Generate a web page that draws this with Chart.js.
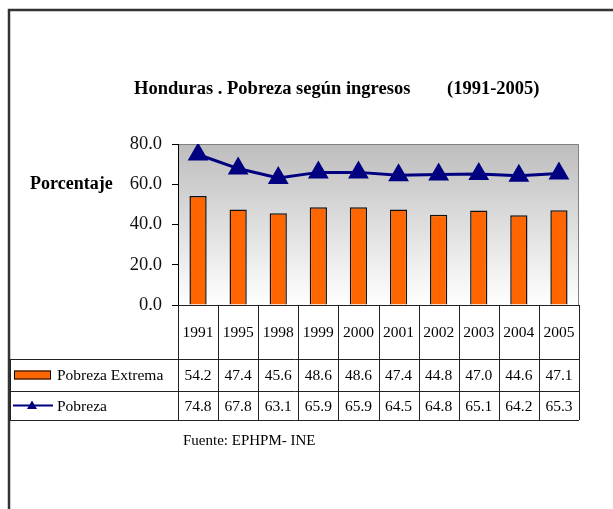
<!DOCTYPE html>
<html lang="es">
<head>
  <meta charset="UTF-8" />
  <title>Honduras . Pobreza según ingresos</title>
  <script src="https://cdn.jsdelivr.net/npm/chart.js@4.4.0/dist/chart.umd.min.js"></script>
  <style>
    html, body { margin: 0; padding: 0; background: #fff; }
    #chart { display: block; }
  </style>
</head>
<body>
  <canvas id="chart" width="613" height="509"></canvas>

  <script>
    const years = ['1991', '1995', '1998', '1999', '2000', '2001', '2002', '2003', '2004', '2005'];
    const pobrezaExtrema = [54.2, 47.4, 45.6, 48.6, 48.6, 47.4, 44.8, 47.0, 44.6, 47.1];
    const pobreza = [74.8, 67.8, 63.1, 65.9, 65.9, 64.5, 64.8, 65.1, 64.2, 65.3];
    const yTicks = [0, 20, 40, 60, 80];

    const SERIF = '"Liberation Serif", "Times New Roman", serif';
    const ORANGE = '#FF6600';
    const NAVY = '#000080';

    // frame, gradient plot area, title, and the data table under the plot
    const decor = {
      id: 'decor',
      beforeDraw(chart) {
        const { ctx, chartArea: a } = chart;
        ctx.save();
        ctx.fillStyle = '#fff';
        ctx.fillRect(0, 0, chart.width, chart.height);

        // outer frame (only top and left visible)
        ctx.strokeStyle = '#333';
        ctx.lineWidth = 2.5;
        ctx.beginPath();
        ctx.moveTo(9, chart.height);
        ctx.lineTo(9, 10);
        ctx.lineTo(chart.width, 10);
        ctx.stroke();

        const g = ctx.createLinearGradient(0, a.top, 0, a.bottom);
        g.addColorStop(0, '#bdbdbd');
        g.addColorStop(1, '#ffffff');
        ctx.fillStyle = g;
        ctx.fillRect(a.left, a.top, a.right - a.left, a.bottom - a.top);

        ctx.strokeStyle = '#808080';
        ctx.lineWidth = 1;
        ctx.beginPath();
        ctx.moveTo(a.left, a.top + 0.5);
        ctx.lineTo(a.right - 0.5, a.top + 0.5);
        ctx.lineTo(a.right - 0.5, a.bottom);
        ctx.stroke();
        ctx.restore();
      },
      afterDraw(chart) {
        const { ctx, chartArea: a } = chart;
        const x = chart.scales.x;
        ctx.save();

        // titles
        ctx.fillStyle = '#000';
        ctx.textBaseline = 'middle';
        ctx.textAlign = 'left';
        ctx.font = 'bold 18.5px ' + SERIF;
        ctx.fillText('Honduras . Pobreza según ingresos', 134, 89);
        ctx.fillText('(1991-2005)', 447, 89);
        ctx.font = 'bold 18px ' + SERIF;
        ctx.fillText('Porcentaje', 30, 184);

        // table geometry
        const legLeft = 10;
        const rowCat = a.bottom + 54;
        const row1 = rowCat + 32;
        const row2 = row1 + 29;
        const centers = years.map((_, i) => x.getPixelForValue(i));
        const bounds = [a.left];
        for (let i = 0; i < centers.length - 1; i++) bounds.push((centers[i] + centers[i + 1]) / 2);
        bounds.push(a.right);

        ctx.strokeStyle = '#222';
        ctx.lineWidth = 1;
        ctx.beginPath();
        ctx.moveTo(a.left, a.bottom + 0.5);
        ctx.lineTo(a.right, a.bottom + 0.5);
        [rowCat, row1, row2].forEach(yy => {
          ctx.moveTo(legLeft, yy + 0.5);
          ctx.lineTo(a.right, yy + 0.5);
        });
        ctx.moveTo(legLeft + 0.5, rowCat);
        ctx.lineTo(legLeft + 0.5, row2);
        bounds.forEach(bx => {
          const px = Math.round(bx) + 0.5;
          ctx.moveTo(px, a.bottom);
          ctx.lineTo(px, row2);
        });
        ctx.stroke();

        ctx.font = '15.5px ' + SERIF;
        ctx.textAlign = 'center';
        centers.forEach((cx, i) => {
          ctx.fillText(years[i], cx, (a.bottom + rowCat) / 2 + 1);
          ctx.fillText(pobrezaExtrema[i].toFixed(1), cx, (rowCat + row1) / 2 + 1);
          ctx.fillText(pobreza[i].toFixed(1), cx, (row1 + row2) / 2 + 1);
        });

        // legend keys
        const y1 = (rowCat + row1) / 2;
        const y2 = (row1 + row2) / 2;
        ctx.fillStyle = ORANGE;
        ctx.fillRect(14, y1 - 4.5, 37, 9);
        ctx.strokeStyle = '#000';
        ctx.strokeRect(14.5, y1 - 4, 36, 8);

        ctx.strokeStyle = NAVY;
        ctx.lineWidth = 2;
        ctx.beginPath();
        ctx.moveTo(13, y2);
        ctx.lineTo(53, y2);
        ctx.stroke();
        ctx.fillStyle = NAVY;
        ctx.beginPath();
        ctx.moveTo(32, y2 - 5);
        ctx.lineTo(37, y2 + 3.5);
        ctx.lineTo(27, y2 + 3.5);
        ctx.closePath();
        ctx.fill();

        ctx.fillStyle = '#000';
        ctx.textAlign = 'left';
        ctx.fillText('Pobreza Extrema', 57, y1 + 1);
        ctx.fillText('Pobreza', 57, y2 + 1);

        ctx.font = '15px ' + SERIF;
        ctx.fillText('Fuente: EPHPM- INE', 183, 441);
        ctx.restore();
      }
    };

    new Chart(document.getElementById('chart'), {
      type: 'bar',
      data: {
        labels: years,
        datasets: [
          {
            type: 'line',
            label: 'Pobreza',
            data: pobreza,
            borderColor: NAVY,
            backgroundColor: NAVY,
            borderWidth: 3,
            pointStyle: 'triangle',
            pointRadius: 9,
            pointBackgroundColor: NAVY,
            pointBorderColor: NAVY,
            tension: 0,
            order: 0
          },
          {
            label: 'Pobreza Extrema',
            data: pobrezaExtrema,
            backgroundColor: ORANGE,
            borderColor: '#111',
            borderWidth: 1.5,
            barPercentage: 0.43,
            categoryPercentage: 1,
            order: 1
          }
        ]
      },
      options: {
        responsive: false,
        animation: false,
        layout: { padding: { top: 144, right: 34, bottom: 204, left: 0 } },
        scales: {
          x: { display: false },
          y: {
            min: 0,
            max: 80,
            afterBuildTicks: s => { s.ticks = yTicks.map(v => ({ value: v })); },
            afterFit: s => { s.width = 178; },
            ticks: {
              callback: v => Number(v).toFixed(1),
              font: { family: SERIF, size: 18.5 },
              color: '#111',
              padding: 10
            },
            grid: { drawOnChartArea: false, tickLength: 6, color: '#000' },
            border: { color: '#000', width: 1 }
          }
        },
        plugins: {
          legend: { display: false },
          tooltip: { enabled: false }
        }
      },
      plugins: [decor]
    });
  </script>
</body>
</html>
